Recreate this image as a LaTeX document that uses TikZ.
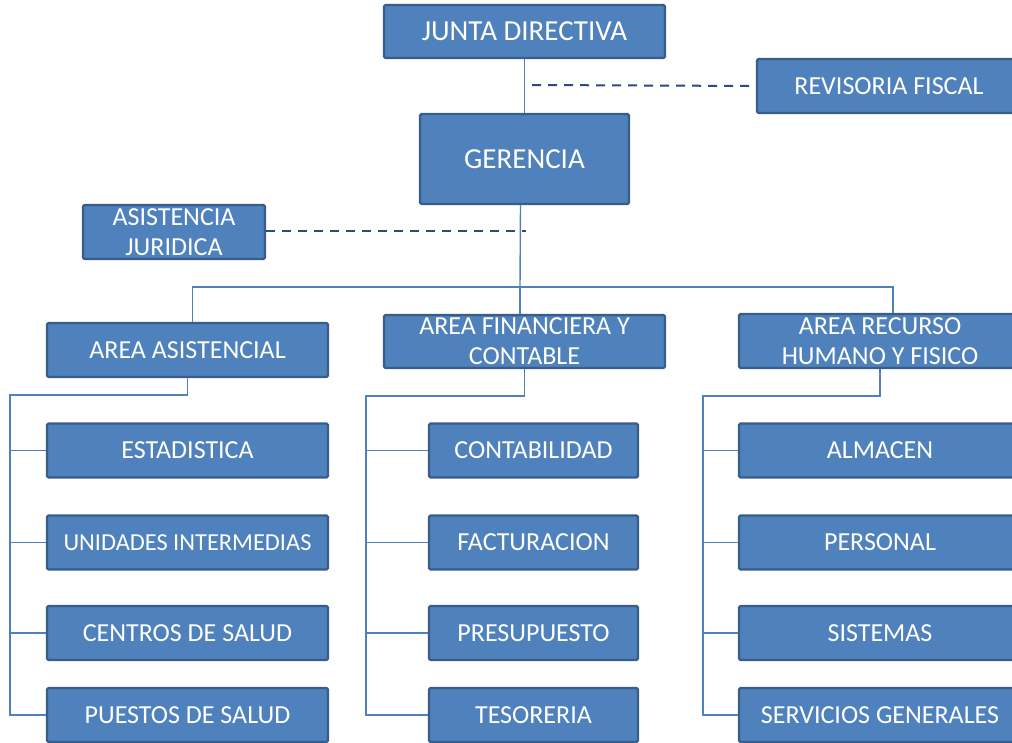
\documentclass[tikz,border=0pt]{standalone}
\usepackage{fontspec}
\setmainfont{Carlito}
\usepackage{xcolor}
\usetikzlibrary{positioning, calc}

\definecolor{boxfill}{HTML}{4F81BD}
\definecolor{boxline}{HTML}{385D8A}
\definecolor{dashline}{HTML}{2C4D7A}

\tikzset{
  unit/.style={draw=boxline, fill=boxfill, line width=2.4pt, rounded corners=1.5pt,
    text=white, inner sep=0pt, align=center,
    font=\fontsize{26}{30}\selectfont},
  bigunit/.style={unit, font=\fontsize{29}{33}\selectfont},
  conn/.style={draw=boxfill, line width=1.4pt},
  staff/.style={draw=dashline, line width=2pt, dash pattern=on 9pt off 7pt}
}

\begin{document}
\begin{tikzpicture}[x=1pt, y=-1pt]
\useasboundingbox (0,0) rectangle (1012,742);

% top levels
\node[bigunit, minimum width=281pt, minimum height=53pt] (junta) at (524.5,31.5) {JUNTA DIRECTIVA};
\node[unit, minimum width=264pt, minimum height=54pt] (revisoria) at (889,86) {REVISORIA FISCAL};
\node[bigunit, minimum width=209pt, minimum height=90pt] (gerencia) at (524.5,159) {GERENCIA};
\node[unit, minimum width=182pt, minimum height=54pt] (juridica) at (174,232) {ASISTENCIA\\JURIDICA};

\coordinate (rf) at (532,85);
\coordinate (aj) at (526,231);
\coordinate (bus) at (520,287);

\draw[conn] (junta) -- (gerencia);
\draw[staff] (rf) -- (revisoria.west);
\draw[staff] (juridica.east |- aj) -- (aj);

% areas
\node[unit, minimum width=281pt, minimum height=54pt] (asistencial) at (187.5,350) {AREA ASISTENCIAL};
\node[unit, minimum width=281pt, minimum height=53pt] (financiera) at (524.5,341.5) {AREA FINANCIERA Y\\CONTABLE};
\node[unit, minimum width=282pt, minimum height=54pt] (recurso) at (880,341) {AREA RECURSO\\HUMANO Y FISICO};

\draw[conn] ([xshift=-4pt]gerencia.south) -- (bus);
\draw[conn] ([xshift=5pt]asistencial.north) |- (bus) -| ([xshift=13pt]recurso.north);
\draw[conn] (bus) -- (bus |- financiera.north);

% area asistencial
\node[unit, minimum width=281pt, minimum height=54pt] (estadistica) at (187.5,450.5) {ESTADISTICA};
\node[unit, minimum width=281pt, minimum height=54pt, font=\fontsize{24.4}{30}\selectfont] (unidades) at (187.5,542.5) {UNIDADES INTERMEDIAS};
\node[unit, minimum width=281pt, minimum height=54pt] (centros) at (187.5,633) {CENTROS DE SALUD};
\node[unit, minimum width=281pt, minimum height=54pt] (puestos) at (187.5,715) {PUESTOS DE SALUD};

% area financiera
\node[unit, minimum width=209pt, minimum height=54pt] (contabilidad) at (533.5,450.5) {CONTABILIDAD};
\node[unit, minimum width=209pt, minimum height=54pt] (facturacion) at (533.5,542.5) {FACTURACION};
\node[unit, minimum width=209pt, minimum height=54pt] (presupuesto) at (533.5,633) {PRESUPUESTO};
\node[unit, minimum width=209pt, minimum height=54pt] (tesoreria) at (533.5,715) {TESORERIA};

% area recurso humano
\node[unit, minimum width=282pt, minimum height=54pt] (almacen) at (880,450.5) {ALMACEN};
\node[unit, minimum width=282pt, minimum height=54pt] (personal) at (880,542.5) {PERSONAL};
\node[unit, minimum width=282pt, minimum height=54pt] (sistemas) at (880,633) {SISTEMAS};
\node[unit, minimum width=282pt, minimum height=54pt] (servicios) at (880,715) {SERVICIOS GENERALES};

\coordinate (sa) at (10,395);
\coordinate (sf) at (366,396);
\coordinate (sr) at (703,396);

\draw[conn] (asistencial.south) |- (sa) |- (puestos.west);
\draw[conn] (financiera.south) |- (sf) |- (tesoreria.west);
\draw[conn] (recurso.south) |- (sr) |- (servicios.west);

\foreach \n in {estadistica, unidades, centros}
  \draw[conn] (sa |- \n.west) -- (\n.west);
\foreach \n in {contabilidad, facturacion, presupuesto}
  \draw[conn] (sf |- \n.west) -- (\n.west);
\foreach \n in {almacen, personal, sistemas}
  \draw[conn] (sr |- \n.west) -- (\n.west);
\end{tikzpicture}
\end{document}
